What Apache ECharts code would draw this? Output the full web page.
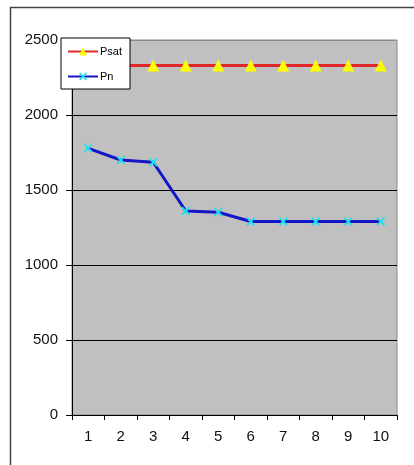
<!DOCTYPE html>
<html><head><meta charset="utf-8">
<script src="https://cdn.jsdelivr.net/npm/echarts@6/dist/echarts.min.js"></script>
<style>html,body{margin:0;padding:0;background:#fff}#c{width:414px;height:465px}</style>
</head><body><div id="c"></div>
<script>
const categories = ['1','2','3','4','5','6','7','8','9','10'];
const psat = [2330,2330,2330,2330,2330,2330,2330,2330,2330,2330];
const pn = [1778,1700,1685,1360,1352,1290,1290,1290,1290,1290];
const yTicks = [0,500,1000,1500,2000,2500];

const chart = echarts.init(document.getElementById('c'));
const xShape = 'path://M0,1.5L1.5,0L5,3.5L8.5,0L10,1.5L6.5,5L10,8.5L8.5,10L5,6.5L1.5,10L0,8.5L3.5,5Z';
chart.setOption({
  animation:false,
  backgroundColor:'#fff',
  textStyle:{fontFamily:'Liberation Sans, Arial, sans-serif'},
  graphic:[
    {type:'line',shape:{x1:10.5,y1:7,x2:10.5,y2:465},style:{stroke:'#444',lineWidth:1.5}},
    {type:'line',shape:{x1:10,y1:7.5,x2:414,y2:7.5},style:{stroke:'#444',lineWidth:1.5}}
  ],
  grid:{left:72,right:17,top:40,bottom:50,show:true,backgroundColor:'#c0c0c0',borderColor:'#8a8a8a',borderWidth:1},
  legend:{
    left:61,top:38,orient:'vertical',
    backgroundColor:'#fff',borderColor:'#000',borderWidth:1,borderRadius:0,
    padding:[8,8,7,6],itemWidth:30,itemHeight:10,itemGap:14,
    textStyle:{fontSize:11,color:'#000',padding:[0,0,0,-3]},
    data:['Psat','Pn']
  },
  xAxis:{
    type:'category',data:categories,boundaryGap:true,
    axisLine:{lineStyle:{color:'#000',width:1}},
    axisTick:{show:true,interval:0,length:5,lineStyle:{color:'#000'}},
    axisLabel:{color:'#111',fontSize:15,margin:14,interval:0},
    splitLine:{show:false}
  },
  yAxis:{
    type:'value',min:yTicks[0],max:yTicks[yTicks.length-1],interval:500,
    axisLine:{show:true,lineStyle:{color:'#000',width:1}},
    axisTick:{show:true,length:6,lineStyle:{color:'#000'}},
    axisLabel:{color:'#111',fontSize:15,margin:14,formatter:function(v){return String(v);}},
    splitLine:{show:true,lineStyle:{color:['#000','#000','#000','#000','#000','#8a8a8a'],width:1}}
  },
  series:[
    {name:'Psat',type:'line',data:psat,symbol:'triangle',symbolSize:12,
     lineStyle:{color:'#e02828',width:3},itemStyle:{color:'#ffff00'},color:'#e02828',z:3},
    {name:'Pn',type:'line',data:pn,symbol:xShape,symbolSize:9,
     lineStyle:{color:'#1414c8',width:3},itemStyle:{color:'#20e0f0'},color:'#1414c8',z:3}
  ]
});
</script></body></html>
